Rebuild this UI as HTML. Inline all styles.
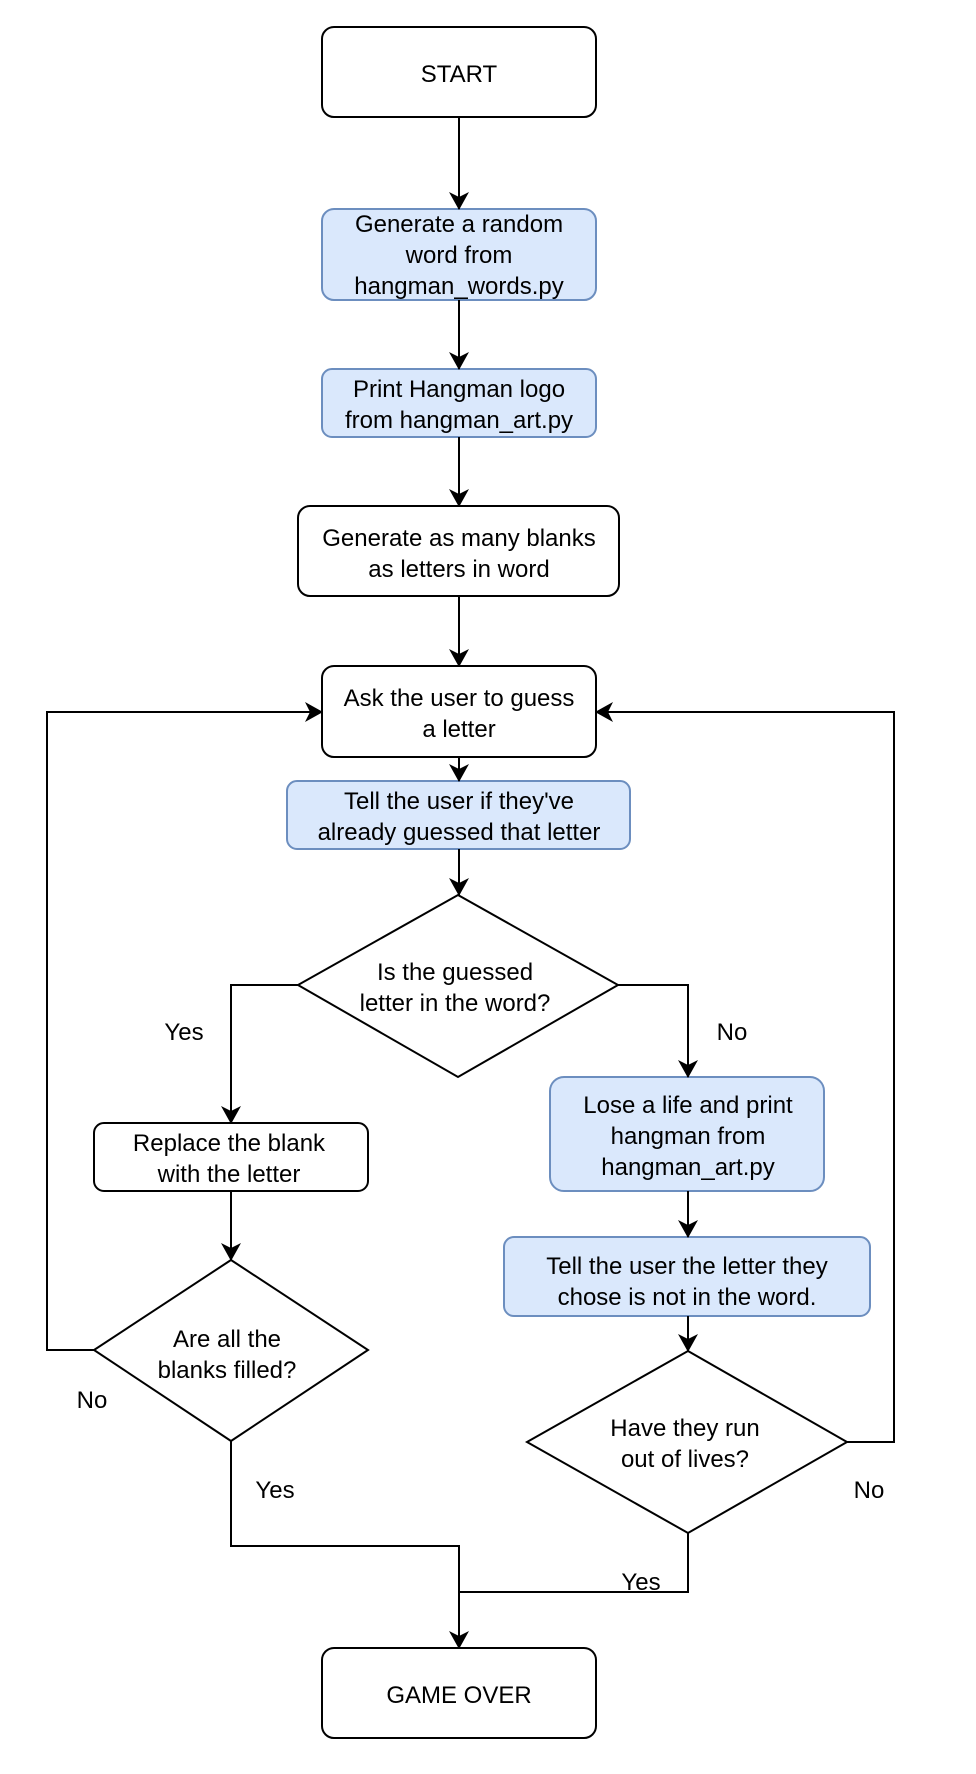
<!DOCTYPE html>
<html><head><meta charset="utf-8"><style>
html,body{margin:0;padding:0;background:#fff}
svg text{font-family:"Liberation Sans",Arial,Helvetica,sans-serif;font-size:24px;fill:#000}
</style></head><body>
<svg width="976" height="1769" viewBox="0 0 976 1769" xmlns="http://www.w3.org/2000/svg">
<defs><marker id="a" markerWidth="18" markerHeight="20" refX="17" refY="10" orient="auto" markerUnits="userSpaceOnUse"><path d="M0,0 L18,10 L0,20 L5,10 Z" fill="#000"/></marker></defs>
<g fill="none" stroke="#000" stroke-width="2">
<rect x="322" y="27" width="274" height="90" rx="12" fill="#fff"/>
<rect x="322" y="209" width="274" height="91" rx="12" fill="#dae8fc" stroke="#6c8ebf"/>
<rect x="322" y="369" width="274" height="68" rx="10" fill="#dae8fc" stroke="#6c8ebf"/>
<rect x="298" y="506" width="321" height="90" rx="12" fill="#fff"/>
<rect x="322" y="666" width="274" height="91" rx="12" fill="#fff"/>
<rect x="287" y="781" width="343" height="68" rx="10" fill="#dae8fc" stroke="#6c8ebf"/>
<polygon points="458,895 618,985 458,1077 298,985" fill="#fff"/>
<rect x="94" y="1123" width="274" height="68" rx="10" fill="#fff"/>
<rect x="550" y="1077" width="274" height="114" rx="14" fill="#dae8fc" stroke="#6c8ebf"/>
<rect x="504" y="1237" width="366" height="79" rx="10" fill="#dae8fc" stroke="#6c8ebf"/>
<polygon points="231,1260 368,1350 231,1441 94,1350" fill="#fff"/>
<polygon points="688,1351 847,1442 688,1533 527,1442" fill="#fff"/>
<rect x="322" y="1648" width="274" height="90" rx="12" fill="#fff"/>
<line x1="459" y1="117" x2="459" y2="209" marker-end="url(#a)"/>
<line x1="459" y1="300" x2="459" y2="369" marker-end="url(#a)"/>
<line x1="459" y1="437" x2="459" y2="506" marker-end="url(#a)"/>
<line x1="459" y1="596" x2="459" y2="666" marker-end="url(#a)"/>
<line x1="459" y1="757" x2="459" y2="781" marker-end="url(#a)"/>
<line x1="459" y1="849" x2="459" y2="895" marker-end="url(#a)"/>
<polyline points="298,985 231,985 231,1123" marker-end="url(#a)"/>
<polyline points="618,985 688,985 688,1077" marker-end="url(#a)"/>
<line x1="688" y1="1191" x2="688" y2="1237" marker-end="url(#a)"/>
<line x1="231" y1="1191" x2="231" y2="1260" marker-end="url(#a)"/>
<line x1="688" y1="1316" x2="688" y2="1351" marker-end="url(#a)"/>
<polyline points="94,1350 47,1350 47,712 322,712" marker-end="url(#a)"/>
<polyline points="847,1442 894,1442 894,712 596,712" marker-end="url(#a)"/>
<polyline points="231,1441 231,1546 459,1546 459,1648" marker-end="url(#a)"/>
<polyline points="688,1533 688,1592 459,1592"/>
</g>
<g text-anchor="middle">
<text x="459" y="82">START</text>
<text x="459" y="232">Generate a random</text>
<text x="459" y="263">word from</text>
<text x="459" y="294">hangman_words.py</text>
<text x="459" y="397">Print Hangman logo</text>
<text x="459" y="428">from hangman_art.py</text>
<text x="459" y="546">Generate as many blanks</text>
<text x="459" y="577">as letters in word</text>
<text x="459" y="706">Ask the user to guess</text>
<text x="459" y="737">a letter</text>
<text x="459" y="809">Tell the user if they've</text>
<text x="459" y="840">already guessed that letter</text>
<text x="455" y="980">Is the guessed</text>
<text x="455" y="1011">letter in the word?</text>
<text x="229" y="1151">Replace the blank</text>
<text x="229" y="1182">with the letter</text>
<text x="688" y="1113">Lose a life and print</text>
<text x="688" y="1144">hangman from</text>
<text x="688" y="1175">hangman_art.py</text>
<text x="687" y="1274">Tell the user the letter they</text>
<text x="687" y="1305">chose is not in the word.</text>
<text x="227" y="1347">Are all the</text>
<text x="227" y="1378">blanks filled?</text>
<text x="685" y="1436">Have they run</text>
<text x="685" y="1467">out of lives?</text>
<text x="459" y="1703">GAME OVER</text>
<text x="184" y="1040">Yes</text>
<text x="732" y="1040">No</text>
<text x="92" y="1408">No</text>
<text x="275" y="1498">Yes</text>
<text x="869" y="1498">No</text>
<text x="641" y="1590">Yes</text>
</g>
</svg>
</body></html>
